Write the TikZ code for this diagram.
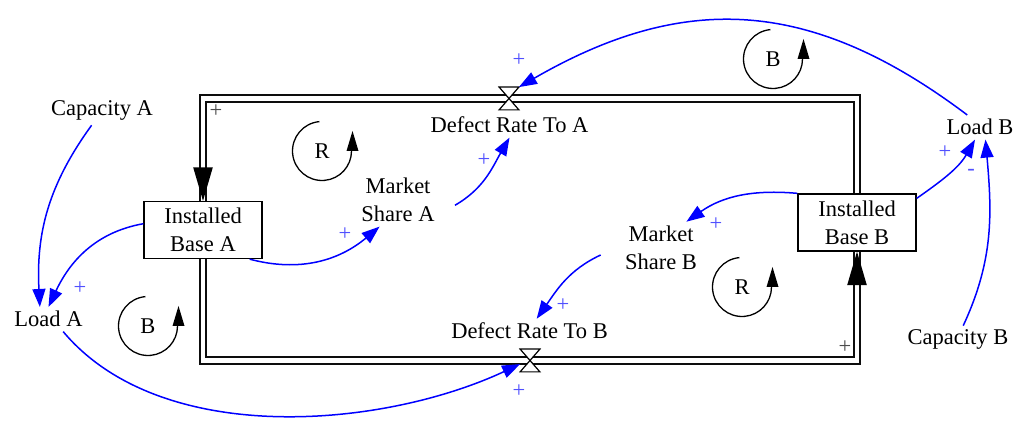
\documentclass[tikz,border=0pt]{standalone}
\usepackage{fontspec}
\setmainfont{Liberation Serif}
\usetikzlibrary{arrows.meta}
\definecolor{LinkBlue}{RGB}{0,0,255}
\definecolor{SignBlue}{RGB}{80,80,255}
\definecolor{PipeInk}{gray}{0.05}
\definecolor{CornerSign}{gray}{0.3}
\tikzset{
    sfd/diagram/.style={
        font=\fontsize{11.25}{14}\selectfont,
        line join=miter
    },
    sfd/var/.style={inner sep=2pt, anchor=base},
    sfd/var2/.style={inner sep=2pt, align=center},
    sfd/stock/.style={
        draw=black, line width=0.65pt, align=center, inner sep=0pt,
        minimum width=59pt, minimum height=28.5pt
    },
    sfd/pipe/.style={
        draw=PipeInk, line width=0.8pt,
        double=white, double distance=2.45pt
    },
    sfd/valve/.style={minimum width=9.5pt, minimum height=11pt, inner sep=0pt},
    sfd/bowtie/.style={draw=black, fill=white, line width=0.6pt},
    sfd/link/.style={
        draw=LinkBlue, line width=0.75pt,
        -{Triangle[length=9pt, width=6.5pt]}
    },
    sfd/sign/.style={text=SignBlue, inner sep=0pt},
    sfd/corner/.style={text=CornerSign, inner sep=0pt},
    sfd/loopmark/.pic={
        \draw[line width=0.65pt] (95:29.5) arc[start angle=95, end angle=360, radius=29.5];
        \fill (24.5,0) -- (36.5,0) -- (30.5,20) -- cycle;
        \node[inner sep=0pt] (-txt) {\tikzpictext};
    }
}

\begin{document}
\begin{tikzpicture}[sfd/diagram, x=0.5pt, y=0.5pt]
    \useasboundingbox (0,0) rectangle (1016,431);
    % stocks and valves
    \node[sfd/stock] (IBA) at (203,201) {Installed\\Base A};
    \node[sfd/stock] (IBB) at (857,208.5) {Installed\\Base B};
    \node[sfd/valve] (vA) at (509,332.5) {};
    \node[sfd/valve] (vB) at (530,70.5) {};
    % pipes
    \draw[sfd/pipe] (IBB.north) |- (vA.center) -| (IBA.north);
    \draw[sfd/pipe] (IBA.south) |- (vB.center) -| (IBB.south);
    \fill (IBA.north) -- ++(-9.8,33.4) -- ++(19.6,0) -- cycle;
    \fill (IBB.south) -- ++(-9.8,-33.4) -- ++(19.6,0) -- cycle;
    \filldraw[sfd/bowtie] (vA.north west) -- (vA.north east)
        -- (vA.south west) -- (vA.south east) -- cycle;
    \filldraw[sfd/bowtie] (vB.north west) -- (vB.north east)
        -- (vB.south west) -- (vB.south east) -- cycle;
    % variables
    \node[sfd/var] (CapA) at (102,315) {Capacity A};
    \node[sfd/var] (LoadA) at (48.5,104) {Load A};
    \node[sfd/var2] (MSA) at (398,230.7) {Market\\Share A};
    \node[sfd/var] (DRA) at (509.5,298) {Defect Rate To A};
    \node[sfd/var] (DRB) at (529.5,92) {Defect Rate To B};
    \node[sfd/var2] (MSB) at (661,183) {Market\\Share B};
    \node[sfd/var] (LoadB) at (980,296) {Load B};
    \node[sfd/var] (CapB) at (958,86) {Capacity B};
    % links
    \draw[sfd/link] (CapA) to[out=234, in=93] (LoadA.125);
    \draw[sfd/link] (IBA.174) to[out=190, in=65] (LoadA.north);
    \draw[sfd/link] (IBA.-32) to[out=-15, in=220] (MSA.235);
    \draw[sfd/link] ([shift={(16,-5)}]MSA.east) to[out=30, in=240] (DRA.south);
    \draw[sfd/link] (LoadB.136) to[out=143, in=30, looseness=1.1] (vA.north east);
    \draw[sfd/link] (IBB.north west) to[out=175, in=35] (MSB.46);
    \draw[sfd/link] (IBB.22) to[out=35, in=240] (LoadB.248);
    \draw[sfd/link] (CapB.70) to[out=65, in=-85] (LoadB.294);
    \draw[sfd/link] ([shift={(-20,-7)}]MSB.west) to[out=205, in=55] (DRB.60);
    \draw[sfd/link] (LoadA.-40) to[out=-50, in=205, looseness=0.85] (vB.200);
    % polarities
    \node[sfd/sign] (s1) at (80,143) {+};
    \node[sfd/sign] (s2) at (345,197) {+};
    \node[sfd/sign] (s3) at (484,271) {+};
    \node[sfd/sign] (s4) at (519,371) {+};
    \node[sfd/sign] (s5) at (716,207) {+};
    \node[sfd/sign] (s6) at (945,279) {+};
    \node[sfd/sign] (s7) at (971,259) {-};
    \node[sfd/sign] (s8) at (563,126) {+};
    \node[sfd/sign] (s9) at (519,40) {+};
    \node[sfd/corner] (c1) at (216,320) {+};
    \node[sfd/corner] (c2) at (845,84) {+};
    % loops
    \pic[pic text=R] (lR1) at (322,280) {sfd/loopmark};
    \pic[pic text=B] (lB1) at (773,372) {sfd/loopmark};
    \pic[pic text=R] (lR2) at (742,144) {sfd/loopmark};
    \pic[pic text=B] (lB2) at (148,105) {sfd/loopmark};
\end{tikzpicture}
\end{document}
